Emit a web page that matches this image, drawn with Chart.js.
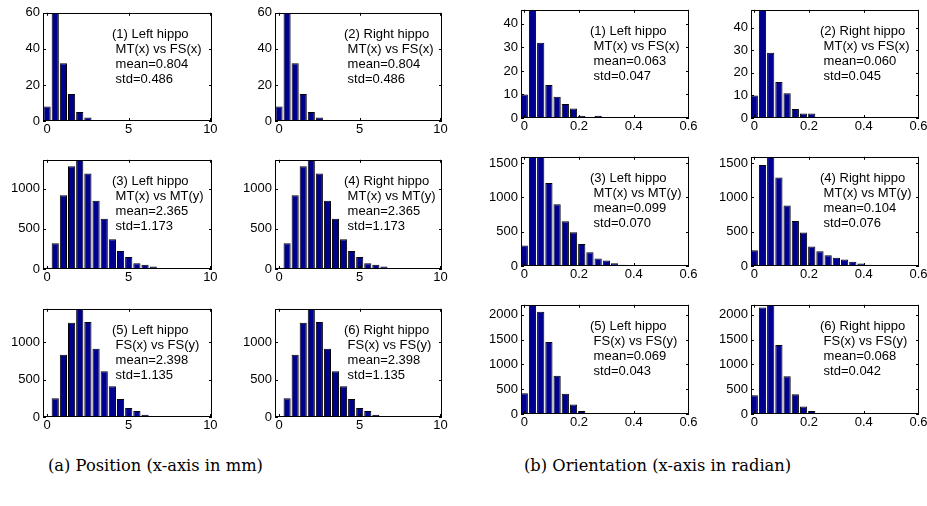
<!DOCTYPE html>
<html>
<head>
<meta charset="utf-8">
<script src="https://cdn.jsdelivr.net/npm/chart.js@4.4.1/dist/chart.umd.min.js"></script>
<style>
  html, body { margin: 0; padding: 0; background: #fff; }
  body { width: 927px; height: 506px; position: relative; overflow: hidden; }
  .cell { position: absolute; }
  .caption { position: absolute; font-family: "DejaVu Serif", serif; font-size: 16.3px; color: #000; white-space: nowrap; }
</style>
</head>
<body>
<div class="caption" style="left:48px; top:456px;">(a) Position (x-axis in mm)</div>
<div class="caption" style="left:524px; top:456px;">(b) Orientation (x-axis in radian)</div>
<script>
// bin centres
const posBins = [0, 0.5, 1, 1.5, 2, 2.5, 3, 3.5, 4, 4.5, 5, 5.5, 6, 6.5, 7, 7.5, 8, 8.5];
const oriBins = [0, 0.03, 0.06, 0.09, 0.12, 0.15, 0.18, 0.21, 0.24, 0.27, 0.30, 0.33, 0.36, 0.39, 0.42, 0.45, 0.48, 0.51];

// (a) position histograms
const posLeftMTFS  = [8, 60, 32, 15, 5, 2, 0, 0, 0, 0, 0, 0, 0, 0, 0, 0, 0, 0];
const posRightMTFS = [8, 60, 32, 15, 5, 2, 0, 0, 0, 0, 0, 0, 0, 0, 0, 0, 0, 0];
const posLeftMTMT  = [15, 320, 920, 1280, 1360, 1190, 850, 625, 370, 225, 150, 73, 52, 32, 12, 5, 3, 2];
const posRightMTMT = [15, 320, 920, 1280, 1360, 1190, 850, 625, 370, 225, 150, 73, 52, 32, 12, 5, 3, 2];
const posLeftFSFS  = [10, 250, 830, 1260, 1445, 1270, 910, 610, 410, 240, 120, 80, 30, 15, 5, 3, 0, 0];
const posRightFSFS = [10, 250, 830, 1260, 1445, 1270, 910, 610, 410, 240, 120, 80, 30, 15, 5, 3, 0, 0];

// (b) orientation histograms
const oriLeftMTFS  = [10, 46, 32, 14, 9, 6, 4, 1, 0, 1, 0, 0, 0, 0, 0, 0, 0, 0];
const oriRightMTFS = [10, 48, 29, 16, 11, 4, 2, 2, 0, 0, 0, 0, 0, 0, 0, 0, 0, 0];
const oriLeftMTMT  = [300, 1590, 1590, 1210, 900, 650, 490, 320, 200, 110, 80, 40, 20, 10, 5, 2, 0, 0];
const oriRightMTMT = [230, 1470, 1590, 1290, 880, 655, 488, 283, 215, 155, 120, 95, 62, 35, 18, 10, 5, 3];
const oriLeftFSFS  = [420, 2196, 2060, 1450, 770, 410, 190, 60, 15, 5, 2, 0, 0, 0, 0, 0, 0, 0];
const oriRightFSFS = [380, 2150, 2203, 1390, 760, 400, 150, 60, 10, 5, 0, 0, 0, 0, 0, 0, 0, 0];

// tick labels
const posXTicks = [0, 5, 10];
const oriXTicks = [0, 0.2, 0.4, 0.6];
const yTicksSmallPos = [0, 20, 40, 60];
const yTicksSmallOri = [0, 10, 20, 30, 40];
const yTicks1000 = [0, 500, 1000];
const yTicks1500 = [0, 500, 1000, 1500];
const yTicks2000 = [0, 500, 1000, 1500, 2000];

// annotation texts
const titles = ['(1) Left hippo', '(2) Right hippo', '(3) Left hippo', '(4) Right hippo', '(5) Left hippo', '(6) Right hippo'];
const pairs = ['MT(x) vs FS(x)', 'MT(x) vs FS(x)', 'MT(x) vs MT(y)', 'MT(x) vs MT(y)', 'FS(x) vs FS(y)', 'FS(x) vs FS(y)'];
const posMeans = ['0.804', '0.804', '2.365', '2.365', '2.398', '2.398'];
const posStds  = ['0.486', '0.486', '1.173', '1.173', '1.135', '1.135'];
const oriMeans = ['0.063', '0.060', '0.099', '0.104', '0.069', '0.068'];
const oriStds  = ['0.047', '0.045', '0.070', '0.076', '0.043', '0.042'];

const BAR = 'rgb(0,0,143)';
const FONT = { family: '"Liberation Sans", Arial, sans-serif', size: 13 };

// draws the box, inward ticks on all sides and the text block
const framePlugin = {
  id: 'frame',
  afterDatasetsDraw(chart, args, opts) {
    const { ctx, chartArea: a, scales } = chart;
    ctx.save();
    ctx.strokeStyle = '#000';
    ctx.lineWidth = 1;
    ctx.strokeRect(Math.round(a.left) + 0.5, Math.round(a.top) + 0.5,
      Math.round(a.width) - 1, Math.round(a.height) - 1);
    ctx.beginPath();
    scales.x.ticks.forEach(t => {
      const px = Math.round(scales.x.getPixelForValue(t.value)) + 0.5;
      ctx.moveTo(px, a.bottom); ctx.lineTo(px, a.bottom - 3);
      ctx.moveTo(px, a.top); ctx.lineTo(px, a.top + 3);
    });
    scales.y.ticks.forEach(t => {
      const py = Math.round(scales.y.getPixelForValue(t.value)) + 0.5;
      ctx.moveTo(a.left, py); ctx.lineTo(a.left + 3, py);
      ctx.moveTo(a.right, py); ctx.lineTo(a.right - 3, py);
    });
    ctx.stroke();
    ctx.fillStyle = '#000';
    ctx.font = '13px "Liberation Sans", Arial, sans-serif';
    ctx.textBaseline = 'middle';
    opts.lines.forEach((l, i) => ctx.fillText(l, a.left + opts.dx, a.top + opts.dy + i * 15));
    ctx.restore();
  }
};

function makePanel(frame, bins, counts, xr, xTicks, yMax, yTicks, lines) {
  const [fx, fy, fw, fh] = frame;
  const padL = 40, padT = 8, padR = 14, padB = 20;
  const div = document.createElement('div');
  div.className = 'cell';
  div.style.left = (fx - padL) + 'px';
  div.style.top = (fy - padT) + 'px';
  const cv = document.createElement('canvas');
  cv.width = fw + padL + padR;
  cv.height = fh + padT + padB;
  cv.style.width = cv.width + 'px';
  cv.style.height = cv.height + 'px';
  div.appendChild(cv);
  document.body.appendChild(div);

  new Chart(cv.getContext('2d'), {
    type: 'bar',
    data: {
      datasets: [{
        data: bins.map((b, i) => ({ x: b, y: counts[i] })),
        backgroundColor: BAR,
        borderColor: '#000',
        borderWidth: 1,
        barPercentage: 0.88,
        categoryPercentage: 1.0
      }]
    },
    options: {
      responsive: false,
      animation: false,
      devicePixelRatio: 1,
      layout: { padding: { left: 0, top: padT, right: padR, bottom: 0 } },
      plugins: {
        legend: { display: false },
        tooltip: { enabled: false },
        frame: { lines: lines, dx: 69, dy: 22 }
      },
      scales: {
        x: {
          type: 'linear',
          offset: false,
          min: xr[0], max: xr[1],
          grid: { display: false, drawTicks: false },
          border: { display: false },
          afterFit: s => { s.height = padB; },
          afterBuildTicks: s => { s.ticks = xTicks.map(v => ({ value: v })); },
          ticks: {
            padding: 1, color: '#000', font: FONT, maxRotation: 0, autoSkip: false,
            callback: v => String(v)
          }
        },
        y: {
          min: 0, max: yMax,
          grid: { display: false, drawTicks: false },
          border: { display: false },
          afterFit: s => { s.width = padL; },
          afterBuildTicks: s => { s.ticks = yTicks.map(v => ({ value: v })); },
          ticks: {
            padding: 3, color: '#000', font: FONT, autoSkip: false,
            callback: v => String(v)
          }
        }
      }
    },
    plugins: [framePlugin]
  });
}

const posRange = [-0.25, 10.1];
const oriRange = [-0.012, 0.602];
const posCounts = [posLeftMTFS, posRightMTFS, posLeftMTMT, posRightMTMT, posLeftFSFS, posRightFSFS];
const oriCounts = [oriLeftMTFS, oriRightMTFS, oriLeftMTMT, oriRightMTMT, oriLeftFSFS, oriRightFSFS];
const posFrames = [[43, 10, 169, 111], [275, 10, 167, 111], [43, 157, 169, 112], [275, 157, 167, 112], [43, 306, 169, 111], [275, 306, 167, 111]];
const oriFrames = [[521, 7, 168, 111], [751, 7, 168, 111], [521, 154, 168, 112], [751, 154, 168, 112], [521, 302, 168, 112], [751, 302, 168, 112]];
const posY = [[60, yTicksSmallPos], [60, yTicksSmallPos], [1360, yTicks1000], [1360, yTicks1000], [1445, yTicks1000], [1445, yTicks1000]];
const oriY = [[46, yTicksSmallOri], [48, yTicksSmallOri], [1590, yTicks1500], [1590, yTicks1500], [2200, yTicks2000], [2203, yTicks2000]];

for (let i = 0; i < 6; i++) {
  makePanel(posFrames[i], posBins, posCounts[i], posRange, posXTicks, posY[i][0], posY[i][1],
    [titles[i], ' ' + pairs[i], ' mean=' + posMeans[i], ' std=' + posStds[i]]);
  makePanel(oriFrames[i], oriBins, oriCounts[i], oriRange, oriXTicks, oriY[i][0], oriY[i][1],
    [titles[i], ' ' + pairs[i], ' mean=' + oriMeans[i], ' std=' + oriStds[i]]);
}
</script>
</body>
</html>
